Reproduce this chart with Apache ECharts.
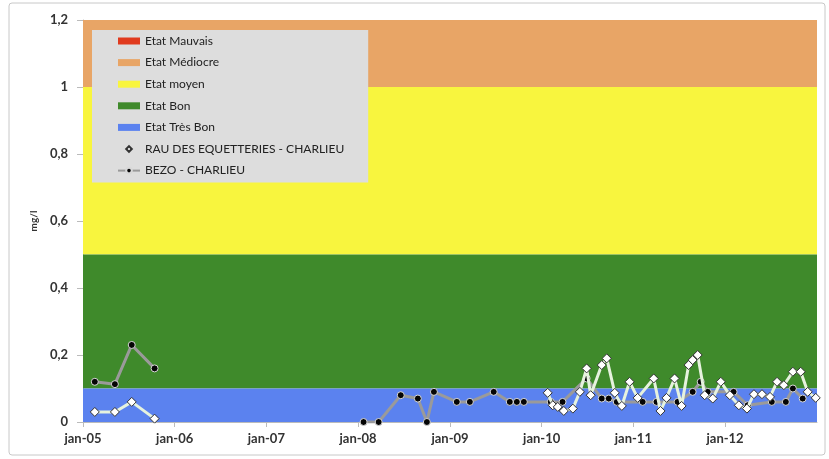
<!DOCTYPE html>
<html><head><meta charset="utf-8">
<script src="https://cdn.jsdelivr.net/npm/echarts@6/dist/echarts.min.js"></script>
<style>html,body{margin:0;padding:0;background:#fff;}#c{width:829px;height:459px;}</style>
</head><body><div id="c"></div>
<script>
// Quality bands (mg/l)
const bandNames = ['Etat Mauvais', 'Etat Médiocre', 'Etat moyen', 'Etat Bon', 'Etat Très Bon'];
const bandLows  = [1.2, 1.0, 0.5, 0.1, 0.0];
const bandHighs = [1.2, 1.2, 1.0, 0.5, 0.1];
const bandColors = ['#e03a1e', '#e8a566', '#f8f53e', '#3f8a2b', '#5b82ef'];

// Series: RAU DES EQUETTERIES - CHARLIEU
const rauName = 'RAU DES EQUETTERIES - CHARLIEU';
const rauDates = ['2005-02-17','2005-05-08','2005-07-14','2005-10-13',
  '2010-01-25','2010-02-14','2010-03-06','2010-03-30','2010-05-05','2010-06-02','2010-06-29','2010-07-15',
  '2010-08-28','2010-09-17','2010-10-19','2010-11-16','2010-12-17','2011-01-18','2011-03-23','2011-04-19',
  '2011-05-13','2011-06-14','2011-07-12','2011-08-09','2011-08-25','2011-09-14','2011-10-12','2011-11-13',
  '2011-12-15','2012-01-20','2012-02-25','2012-03-28','2012-04-25','2012-05-27','2012-06-28','2012-07-26',
  '2012-08-22','2012-09-27','2012-10-28','2012-11-25','2012-12-27'];
const rauValues = [0.03,0.03,0.06,0.01,
  0.087,0.05,0.045,0.033,0.04,0.09,0.16,0.08,
  0.17,0.19,0.087,0.048,0.12,0.072,0.13,0.033,
  0.072,0.13,0.048,0.17,0.185,0.2,0.08,0.07,
  0.12,0.08,0.05,0.04,0.083,0.083,0.075,0.12,
  0.11,0.15,0.15,0.09,0.072];

// Series: BEZO - CHARLIEU
const bezoName = 'BEZO - CHARLIEU';
const bezoDates = ['2005-02-17','2005-05-08','2005-07-14','2005-10-13',
  '2008-01-23','2008-03-23','2008-06-19','2008-08-26','2008-10-01','2008-10-29',
  '2009-01-28','2009-03-21','2009-06-24','2009-08-27','2009-09-24','2009-10-22',
  '2010-02-06','2010-03-25','2010-06-29','2010-08-28','2010-09-25','2010-10-27',
  '2011-02-07','2011-04-03','2011-06-26','2011-08-25','2011-09-26','2011-10-24',
  '2012-02-04','2012-03-31','2012-07-05','2012-08-30','2012-09-27','2012-11-05'];
const bezoValues = [0.12,0.113,0.23,0.16,
  0,0,0.08,0.07,0,0.09,
  0.06,0.06,0.09,0.06,0.06,0.06,
  0.06,0.06,0.13,0.07,0.07,0.06,
  0.06,0.06,0.06,0.09,0.12,0.09,
  0.09,0.05,0.06,0.06,0.10,0.07];

// Axis
const xMin = '2005-01-01', xMax = '2013-01-01';
const yMin = 0, yMax = 1.2, yStep = 0.2;
const yAxisName = 'mg/l';

const YEAR = 365.25 * 86400000;
function buildData(dates, values) {
  const out = [];
  for (let i = 0; i < dates.length; i++) {
    if (i > 0 && (new Date(dates[i]) - new Date(dates[i - 1])) > YEAR * 0.9) {
      out.push([dates[i - 1], '-']); // break the line across long gaps
    }
    out.push([dates[i], values[i]]);
  }
  return out;
}

const font = 'Lato, "Open Sans", sans-serif';
const series = [];
bandNames.forEach((n, i) => {
  series.push({
    name: n, type: 'line', data: [], z: 1, silent: true,
    itemStyle: { color: bandColors[i] }, lineStyle: { color: bandColors[i] },
    markArea: {
      silent: true, itemStyle: { color: bandColors[i], opacity: 1 },
      data: bandHighs[i] > bandLows[i] ? [[{ yAxis: bandLows[i] }, { yAxis: bandHighs[i] }]] : []
    }
  });
});
series.push({
  name: bezoName, type: 'line', z: 3, data: buildData(bezoDates, bezoValues),
  symbol: 'circle', symbolSize: 7, showAllSymbol: true, connectNulls: false,
  lineStyle: { color: '#9a9a9a', width: 3 },
  itemStyle: { color: '#050505', borderColor: '#d8d8d8', borderWidth: 1 }
});
series.push({
  name: rauName, type: 'line', z: 4, data: buildData(rauDates, rauValues),
  symbol: 'diamond', symbolSize: 9, showAllSymbol: true, connectNulls: false,
  lineStyle: { color: '#e6f2de', width: 3 },
  itemStyle: { color: '#ffffff', borderColor: '#333333', borderWidth: 1 }
});

const legendData = bandNames.map(n => ({ name: n, icon: 'rect' }));
legendData.push({ name: rauName, lineStyle: { opacity: 0 } });
legendData.push({ name: bezoName });

const chart = echarts.init(document.getElementById('c'), null, { renderer: 'canvas' });
chart.setOption({
  animation: false,
  backgroundColor: '#ffffff',
  graphic: [{ type: 'rect', shape: { x: 9, y: 3, width: 816, height: 452, r: 3 }, style: { fill: 'none', stroke: '#c8c8c8', lineWidth: 1 }, z: -1 }],
  grid: { left: 83, right: 12, top: 20, bottom: 37 },
  legend: {
    orient: 'vertical', left: 92, top: 30,
    padding: [4, 24, 5, 25],
    backgroundColor: '#dddddd',
    itemWidth: 22, itemHeight: 7, itemGap: 7.6,
    selectedMode: false,
    textStyle: { fontFamily: font, fontSize: 12, color: '#222', lineHeight: 14 },
    data: legendData
  },
  xAxis: {
    type: 'time', min: xMin, max: xMax, splitNumber: 8,
    minInterval: 360 * 86400000, maxInterval: 370 * 86400000,
    axisLine: { lineStyle: { color: '#bbbbbb' } },
    axisTick: { show: true, length: 5, lineStyle: { color: '#bbbbbb' } },
    splitLine: { show: false },
    axisLabel: {
      margin: 10, fontFamily: font, fontSize: 13, fontWeight: 'bold', color: '#333',
      formatter: v => { const y = new Date(v).getFullYear(); return y >= 2013 ? '' : 'jan-' + String(y).slice(2); }
    }
  },
  yAxis: {
    type: 'value', min: yMin, max: yMax, interval: yStep,
    name: yAxisName, nameLocation: 'middle', nameGap: 44, nameRotate: 90,
    nameTextStyle: { fontFamily: font, fontSize: 10, fontWeight: 'bold', color: '#333' },
    axisLine: { show: true, lineStyle: { color: '#bbbbbb' } },
    axisTick: { show: true, length: 6, lineStyle: { color: '#bbbbbb' } },
    splitLine: { show: false },
    axisLabel: {
      margin: 15, fontFamily: font, fontSize: 13, fontWeight: 'bold', color: '#333',
      formatter: v => String(Math.round(v * 10) / 10).replace('.', ',')
    }
  },
  series: series
});
</script></body></html>
